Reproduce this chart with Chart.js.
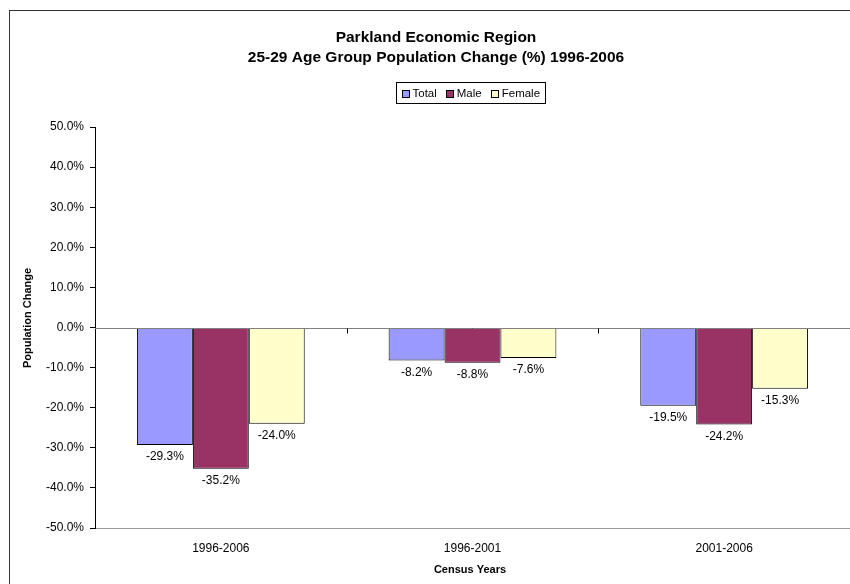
<!DOCTYPE html>
<html>
<head>
<meta charset="utf-8">
<script src="https://cdn.jsdelivr.net/npm/chart.js@4.4.0/dist/chart.umd.min.js"></script>
<style>
  html,body{margin:0;padding:0;background:#fff;overflow:hidden;}
  #wrap{position:relative;width:850px;height:584px;}
  #frame{position:absolute;left:9px;top:10px;width:900px;height:700px;border:1.5px solid #333;box-sizing:border-box;pointer-events:none;}
  canvas{position:absolute;left:0;top:0;}
</style>
</head>
<body>
<div id="wrap">
  <canvas id="c" width="850" height="584"></canvas>
  <div id="frame"></div>
</div>
<script>
const titleLines = ['Parkland Economic Region', '25-29 Age Group Population Change (%) 1996-2006'];
const categories = ['1996-2006', '1996-2001', '2001-2006'];
const seriesNames = ['Total', 'Male', 'Female'];
const totalValues = [-29.3, -8.2, -19.5];
const maleValues = [-35.2, -8.8, -24.2];
const femaleValues = [-24.0, -7.6, -15.3];
const seriesColors = ['#9999FF', '#993366', '#FFFFCC'];
const yTicks = [50, 40, 30, 20, 10, 0, -10, -20, -30, -40, -50];
const xTitle = 'Census Years';
const yTitle = 'Population Change';

const FONT = "'Liberation Sans', Arial, sans-serif";

const decor = {
  id: 'decor',
  afterDatasetsDraw(chart) {
    const ctx = chart.ctx;
    const x = chart.scales.x, y = chart.scales.y;
    const area = chart.chartArea;
    ctx.save();
    // zero line
    const y0 = Math.round(y.getPixelForValue(0)) + 0.5;
    ctx.strokeStyle = '#808080';
    ctx.lineWidth = 1;
    ctx.beginPath();
    ctx.moveTo(area.left, y0);
    ctx.lineTo(chart.width, y0);
    ctx.stroke();
    // category ticks on zero line
    ctx.strokeStyle = '#000';
    const n = categories.length;
    for (let i = 1; i < n; i++) {
      const bx = Math.round((x.getPixelForValue(i - 1) + x.getPixelForValue(i)) / 2) + 0.5;
      ctx.beginPath();
      ctx.moveTo(bx, y0);
      ctx.lineTo(bx, y0 + 5);
      ctx.stroke();
    }
    // data labels
    ctx.fillStyle = '#000';
    ctx.font = '12px ' + FONT;
    ctx.textAlign = 'center';
    ctx.textBaseline = 'top';
    chart.data.datasets.forEach((ds, di) => {
      const meta = chart.getDatasetMeta(di);
      meta.data.forEach((bar, i) => {
        const v = ds.data[i];
        ctx.fillText(v.toFixed(1) + '%', bar.x, bar.y + 6);
      });
    });
    ctx.restore();
  },
  afterDraw(chart) {
    const ctx = chart.ctx;
    const area = chart.chartArea;
    ctx.save();
    ctx.fillStyle = '#000';
    // title
    ctx.font = 'bold 15.5px ' + FONT;
    ctx.textAlign = 'center';
    ctx.textBaseline = 'middle';
    ctx.fillText(titleLines[0], 436, 38);
    ctx.fillText(titleLines[1], 436, 58);
    // legend
    ctx.font = '11.5px ' + FONT;
    const items = chart.data.datasets.map(d => ({ text: d.label, color: d.backgroundColor }));
    const box = 7, gapBox = 4, gapItem = 9;
    let w = 0;
    const widths = items.map(it => ctx.measureText(it.text).width);
    widths.forEach((tw, i) => { w += box + gapBox + tw + (i < items.length - 1 ? gapItem : 0); });
    const padX = 5;
    const lw = w + padX * 2, lh = 21;
    const cx = (area.left + area.right) / 2;
    const lx = Math.round(cx - lw / 2) - 1.5, ly = 82.5;
    ctx.strokeStyle = '#000';
    ctx.lineWidth = 1;
    ctx.strokeRect(lx, ly, Math.round(lw), lh);
    let px = lx + padX;
    const my = ly + lh / 2;
    ctx.textAlign = 'left';
    items.forEach((it, i) => {
      ctx.fillStyle = it.color;
      ctx.fillRect(Math.round(px) + 0.5, Math.round(my - box / 2) + 0.5, box, box);
      ctx.strokeRect(Math.round(px) + 0.5, Math.round(my - box / 2) + 0.5, box, box);
      ctx.fillStyle = '#000';
      ctx.fillText(it.text, px + box + gapBox, my + 0.5);
      px += box + gapBox + widths[i] + gapItem;
    });
    // axis titles
    ctx.font = 'bold 11px ' + FONT;
    ctx.textAlign = 'center';
    ctx.fillText(xTitle, 470, 570);
    ctx.save();
    ctx.translate(28, 318);
    ctx.rotate(-Math.PI / 2);
    ctx.fillText(yTitle, 0, 0);
    ctx.restore();
    ctx.restore();
  }
};

new Chart(document.getElementById('c'), {
  type: 'bar',
  data: {
    labels: categories,
    datasets: [
      { label: seriesNames[0], data: totalValues, backgroundColor: seriesColors[0] },
      { label: seriesNames[1], data: maleValues, backgroundColor: seriesColors[1] },
      { label: seriesNames[2], data: femaleValues, backgroundColor: seriesColors[2] }
    ].map(d => Object.assign(d, { borderColor: '#000', borderWidth: 1, borderSkipped: false, categoryPercentage: 3 / 4.5, barPercentage: 1 }))
  },
  options: {
    responsive: false,
    animation: false,
    devicePixelRatio: 1,
    layout: { padding: { top: 127, right: -4, bottom: 0, left: 0 } },
    plugins: { legend: { display: false }, title: { display: false }, tooltip: { enabled: false } },
    scales: {
      x: {
        grid: { display: false, drawTicks: false },
        border: { display: true, color: '#999' },
        ticks: { color: '#000', font: { family: FONT, size: 12 }, padding: 13, maxRotation: 0 },
        afterFit(s) { s.height = 56; }
      },
      y: {
        min: -50, max: 50,
        afterBuildTicks(s) { s.ticks = yTicks.map(v => ({ value: v })); },
        grid: { drawOnChartArea: false, drawTicks: true, tickLength: 5, color: '#000' },
        border: { display: true, color: '#000' },
        ticks: { color: '#000', font: { family: FONT, size: 12 }, padding: 6, callback: v => v.toFixed(1) + '%' },
        afterFit(s) { s.width = 95; }
      }
    }
  },
  plugins: [decor]
});
</script>
</body>
</html>
